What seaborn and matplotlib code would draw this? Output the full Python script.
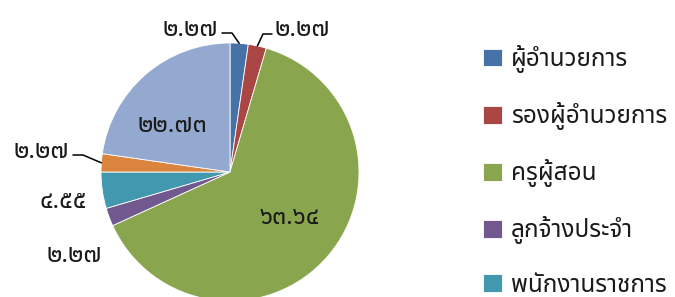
import matplotlib
matplotlib.use("Agg")
import numpy as np
import matplotlib.pyplot as plt
import seaborn as sns

# data (percent)
categories = ["ผู้อำนวยการ", "รองผู้อำนวยการ", "ครูผู้สอน", "ลูกจ้างประจำ",
              "พนักงานราชการ", "ครูอัตราจ้าง", "อื่นๆ"]
values = [2.27, 2.27, 63.64, 2.27, 4.55, 2.27, 22.73]
colors = ["#4572A7", "#AA4643", "#89A54E", "#71588F", "#4198AF", "#DB843D", "#93A9CF"]

# label positions in pixels (x, y from top), leader line elbows
label_pos = [(190, 29), (302, 29), (290, 217), (74, 255), (63, 202), (41, 151), (172, 125)]
leaders = {0: [(222, 33), (232, 33)], 1: [(272, 34), (263, 34)], 5: [(73, 155), (83, 155)]}

W, H = 675, 297
CX, CY, R = 230, 172, 129

sns.set_theme(style="white")
plt.rcParams["font.family"] = ["Noto Sans Thai", "DejaVu Sans"]

thai_digits = str.maketrans("0123456789", "๐๑๒๓๔๕๖๗๘๙")


def to_thai(v):
    return f"{v:.2f}".translate(thai_digits)


fig = plt.figure(figsize=(W / 100, H / 100), dpi=100)
ax = fig.add_axes([0, 0, 1, 1])

wedges, _ = ax.pie(values, colors=sns.color_palette(colors), startangle=90,
                   counterclock=False, center=(CX, H - CY), radius=R,
                   wedgeprops=dict(edgecolor="white", linewidth=0.6), frame=True)
ax.set_xlim(0, W)
ax.set_ylim(0, H)
ax.set_aspect("equal")
ax.axis("off")

for i, (w, v) in enumerate(zip(wedges, values)):
    x, y = label_pos[i]
    ax.text(x, H - y, to_thai(v), ha="center", va="center", fontsize=18,
            fontweight="light", color="#1a1a1a")
    if i in leaders:
        mid = np.deg2rad((w.theta1 + w.theta2) / 2)
        ex, ey = CX + R * np.cos(mid), H - CY + R * np.sin(mid)
        pts = leaders[i]
        xs = [p[0] for p in pts] + [ex]
        ys = [H - p[1] for p in pts] + [ey]
        ax.plot(xs, ys, color="black", lw=1.1)

ax.legend(wedges, categories, loc="upper left", bbox_to_anchor=(483 / W, 1 - 45 / H),
          frameon=False, fontsize=17.5, handlelength=0.78, handleheight=0.75,
          handletextpad=0.37, labelspacing=1.2, borderpad=0, borderaxespad=0,
          labelcolor="#1a1a1a")

fig.savefig("out.png", dpi=100)
